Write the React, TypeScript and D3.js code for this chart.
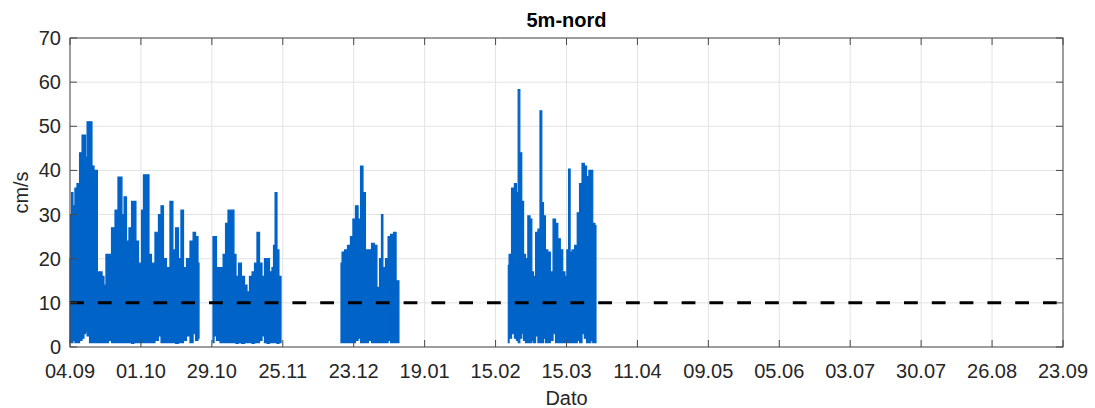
import * as d3 from "d3";

// x-axis: MATLAB-style evenly spaced date ticks over 384 days (04.09 -> 23.09)
const tickLabels = ["04.09", "01.10", "29.10", "25.11", "23.12", "19.01", "15.02", "15.03", "11.04", "09.05", "05.06", "03.07", "30.07", "26.08", "23.09"];
const spanDays = 384;
const yTicks = [0, 10, 20, 30, 40, 50, 60, 70];
const threshold = 10;

const seg1: [number, number, number][] = [
  [0.0, 20, 1], [0.4, 30, 1], [0.8, 35, 1], [1.5, 32, 1.5], [2.3, 36, 1], [3.1, 37, 1],
  [4.3, 44, 1.5], [5.0, 48, 2], [5.8, 48, 3], [6.2, 43, 3.5], [7.0, 51, 2.5], [8.1, 51, 1],
  [8.9, 41, 1], [9.7, 40, 1], [10.4, 40, 1], [10.8, 17, 1], [12.0, 17, 1], [12.8, 16, 1],
  [13.5, 14, 1], [14.3, 21, 1], [15.5, 21, 1.5], [16.6, 27, 1], [18.2, 31, 1], [18.9, 38.5, 1],
  [19.7, 38.5, 1], [20.5, 30, 1], [21.3, 34, 1], [22.4, 24, 1], [23.2, 27, 1], [24.4, 33, 0.8],
  [25.1, 33, 1], [25.9, 24, 1], [27.1, 19, 1], [28.2, 31, 1], [28.6, 39, 1], [30.2, 39, 1],
  [30.9, 21, 1], [32.1, 19, 1], [33.6, 26, 1.5], [34.8, 30, 2.5], [35.6, 32, 1], [36.7, 20, 1],
  [37.9, 18, 1], [39.4, 33, 1], [40.2, 22, 1], [41.4, 27, 0.8], [42.5, 20, 1], [43.3, 31, 1],
  [44.5, 18, 1.5], [45.6, 20, 2.5], [47.2, 24, 1], [48.0, 26, 3], [49.1, 25, 1.5], [49.9, 19, 2],
];
const seg2: [number, number, number][] = [
  [55.3, 25, 1], [56.1, 25, 2.5], [57.2, 18, 1.5], [58.8, 18, 1], [59.6, 21, 1], [60.7, 28, 1],
  [61.5, 31, 1], [63.0, 31, 1], [63.8, 21, 1], [64.6, 16, 0.8], [65.7, 19, 1], [66.9, 16, 0.8],
  [68.1, 14, 1], [68.8, 12.5, 1], [70.0, 16, 1], [70.8, 17, 0.8], [71.9, 19, 1], [72.7, 26, 1],
  [73.9, 19, 1.5], [74.6, 16, 2.5], [75.8, 20, 1], [76.6, 20, 0.8], [77.7, 17, 1], [78.5, 18, 1],
  [78.9, 23, 1], [79.7, 35, 1], [80.4, 22, 0.8], [81.2, 16, 1], [81.6, 16, 1],
];
const seg3: [number, number, number][] = [
  [104.8, 19, 1], [105.6, 21.5, 1], [106.7, 22, 1], [107.9, 23, 1], [109.0, 25, 1],
  [109.8, 29, 1], [111.0, 32, 1.5], [111.8, 29, 2], [112.9, 41, 1], [113.7, 35, 1],
  [114.8, 22, 1], [116.0, 22, 1.5], [117.2, 23.5, 1], [118.3, 23, 1], [119.1, 13.5, 1],
  [120.3, 20, 1], [120.6, 30, 1], [121.4, 18, 1], [122.6, 20, 1], [123.4, 25, 1.5],
  [124.5, 25.5, 1], [125.7, 26, 1], [126.5, 15, 1], [127.2, 15, 1],
];
const seg4: [number, number, number][] = [
  [169.5, 18.5, 1], [170.1, 21, 2], [171.4, 36, 3], [172.3, 37, 2], [173.0, 35, 1.5],
  [173.6, 58.3, 1], [174.3, 44, 2], [175.1, 33, 3], [175.7, 21, 1.5], [176.6, 20, 1],
  [177.5, 29.7, 1], [178.3, 29, 1], [178.9, 17, 1.5], [179.6, 16, 1], [180.5, 26, 2.5],
  [181.4, 26.7, 1], [182.1, 53.5, 1], [182.8, 32.7, 1], [183.4, 29.7, 2], [184.3, 22, 1],
  [185.2, 21.5, 1], [186.3, 17, 1.5], [187.3, 29, 3], [188.2, 28, 1], [189.1, 24.5, 1],
  [190.1, 22, 1], [191.0, 17, 1], [191.8, 16, 1], [192.5, 22, 1], [193.1, 40.3, 1],
  [193.7, 21.5, 1], [194.6, 22, 1], [195.7, 23, 1], [196.6, 30.4, 1.5], [197.5, 37, 1],
  [198.5, 41.6, 3], [199.3, 41, 2], [200.2, 38.6, 1], [201.1, 40, 1], [201.7, 40, 1.5],
  [202.6, 28, 1], [203.4, 27.5, 1],
];
const segments = [seg1, seg2, seg3, seg4];

const W = 1095;
const H = 408;
const left = 70, right = 1063, top = 38, bottom = 347;
const font = "Liberation Sans, Arial, Helvetica, sans-serif";
const txt = "#262626";

export default function App() {
  const x = d3.scaleLinear().domain([0, spanDays]).range([left, right]);
  const y = d3.scaleLinear().domain([0, 70]).range([bottom, top]);
  const xTickPos = tickLabels.map((_, i) => x((i * spanDays) / (tickLabels.length - 1)));

  const area = d3
    .area<[number, number, number]>()
    .x(d => x(d[0]))
    .y0(d => y(d[2]))
    .y1(d => y(d[1]))
    .curve(d3.curveStep);

  const tick = 7;

  return (
    <svg width={W} height={H} style={{ position: "absolute", left: 0, top: 0, background: "#fff" }} fontFamily={font}>
      {/* grid */}
      {xTickPos.map((px, i) => (
        <line key={"gx" + i} x1={px} x2={px} y1={top} y2={bottom} stroke="#e3e3e3" strokeWidth={1} />
      ))}
      {yTicks.map(v => (
        <line key={"gy" + v} x1={left} x2={right} y1={y(v)} y2={y(v)} stroke="#e3e3e3" strokeWidth={1} />
      ))}

      {/* current speed */}
      {segments.map((s, i) => (
        <path key={"s" + i} d={area(s) ?? ""} fill="#0063c8" stroke="#0063c8" strokeWidth={1.2} strokeLinejoin="miter" />
      ))}

      {/* 10 cm/s reference */}
      <line x1={left} x2={right} y1={y(threshold)} y2={y(threshold)} stroke="#000" strokeWidth={3} strokeDasharray="13.8 14" />

      {/* axes box and ticks */}
      <rect x={left} y={top} width={right - left} height={bottom - top} fill="none" stroke="#4a4a4a" strokeWidth={1} />
      {xTickPos.map((px, i) => (
        <g key={"tx" + i}>
          <line x1={px} x2={px} y1={bottom} y2={bottom - tick} stroke="#4a4a4a" />
          <line x1={px} x2={px} y1={top} y2={top + tick} stroke="#4a4a4a" />
          <text x={px} y={bottom + 31} textAnchor="middle" fontSize={20} fill={txt}>
            {tickLabels[i]}
          </text>
        </g>
      ))}
      {yTicks.map(v => (
        <g key={"ty" + v}>
          <line x1={left} x2={left + tick} y1={y(v)} y2={y(v)} stroke="#4a4a4a" />
          <line x1={right} x2={right - tick} y1={y(v)} y2={y(v)} stroke="#4a4a4a" />
          <text x={61} y={y(v)} dy="0.35em" textAnchor="end" fontSize={20} fill={txt}>
            {v}
          </text>
        </g>
      ))}

      {/* labels */}
      <text x={(left + right) / 2} y={27} textAnchor="middle" fontSize={20} fontWeight="bold" fill="#000">
        5m-nord
      </text>
      <text transform={`translate(28,${(top + bottom) / 2}) rotate(-90)`} textAnchor="middle" fontSize={20} fill={txt}>
        cm/s
      </text>
      <text x={(left + right) / 2} y={405} textAnchor="middle" fontSize={20} fill={txt}>
        Dato
      </text>
    </svg>
  );
}
